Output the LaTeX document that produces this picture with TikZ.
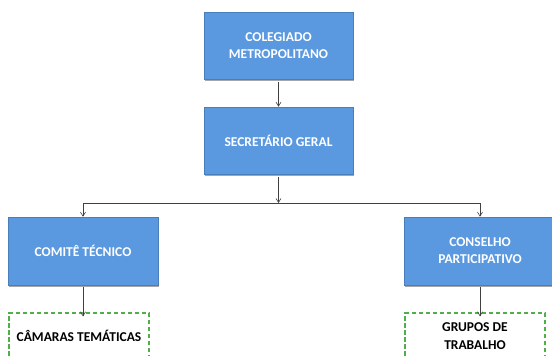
\documentclass[tikz,border=0pt]{standalone}
\usepackage{fontspec}
\setmainfont{Carlito}
\usetikzlibrary{arrows.meta,shadows}
\definecolor{boxblue}{HTML}{5A98E0}
\definecolor{boxedge}{HTML}{4A7EBB}
\definecolor{dashgreen}{HTML}{4FB04A}
\definecolor{linegray}{HTML}{404040}
\tikzset{
  bluebox/.style={rectangle, fill=boxblue, draw=boxedge, line width=0.6pt,
    minimum width=149pt, minimum height=67pt, align=center, text=white,
    font=\bfseries\fontsize{13.5}{17}\selectfont, inner sep=2pt,
    drop shadow={shadow xshift=1.2pt, shadow yshift=-1.5pt, opacity=0.35, fill=black}},
  dashbox/.style={rectangle, draw=dashgreen, line width=1.2pt,
    dash pattern=on 4.5pt off 2.5pt,
    minimum width=140pt, minimum height=46pt, align=center, text=black,
    font=\bfseries\fontsize{13.5}{18}\selectfont, inner sep=2pt},
  conn/.style={draw=linegray, line width=0.6pt},
  arr/.style={conn, -{Straight Barb[length=4pt,width=5pt]}}
}
\begin{document}
\begin{tikzpicture}[x=1pt,y=-1pt]
\useasboundingbox (0,0) rectangle (552,356);
\node[bluebox] (col) at (278.5,45.5) {COLEGIADO\\METROPOLITANO};
\node[bluebox] (sec) at (278.5,140.5) {SECRETÁRIO GERAL};
\node[bluebox, minimum width=150pt, minimum height=68pt] (com) at (83,251) {COMITÊ TÉCNICO};
\node[bluebox, minimum width=152pt, minimum height=68pt] (cons) at (480,251) {CONSELHO\\PARTICIPATIVO};
\node[dashbox] (cam) at (79,336) {CÂMARAS TEMÁTICAS};
\node[dashbox] (gru) at (475,336) {GRUPOS DE\\TRABALHO};
\coordinate (j) at (278.5,203);
\coordinate (jl) at (83,203);
\coordinate (jr) at (480,203);
\draw[arr] ([yshift=-3pt]col.south) -- (sec.north);
\draw[arr] ([yshift=-3pt]sec.south) -- (j);
\draw[conn] (jl) -- (jr);
\draw[arr] (jl) -- (com.north);
\draw[arr] (jr) -- (cons.north);
\draw[arr] ([yshift=-2pt]com.south) -- ([yshift=-4pt]com.south |- cam.north);
\draw[arr] ([yshift=-2pt]cons.south) -- ([yshift=-4pt]cons.south |- gru.north);
\end{tikzpicture}
\end{document}
